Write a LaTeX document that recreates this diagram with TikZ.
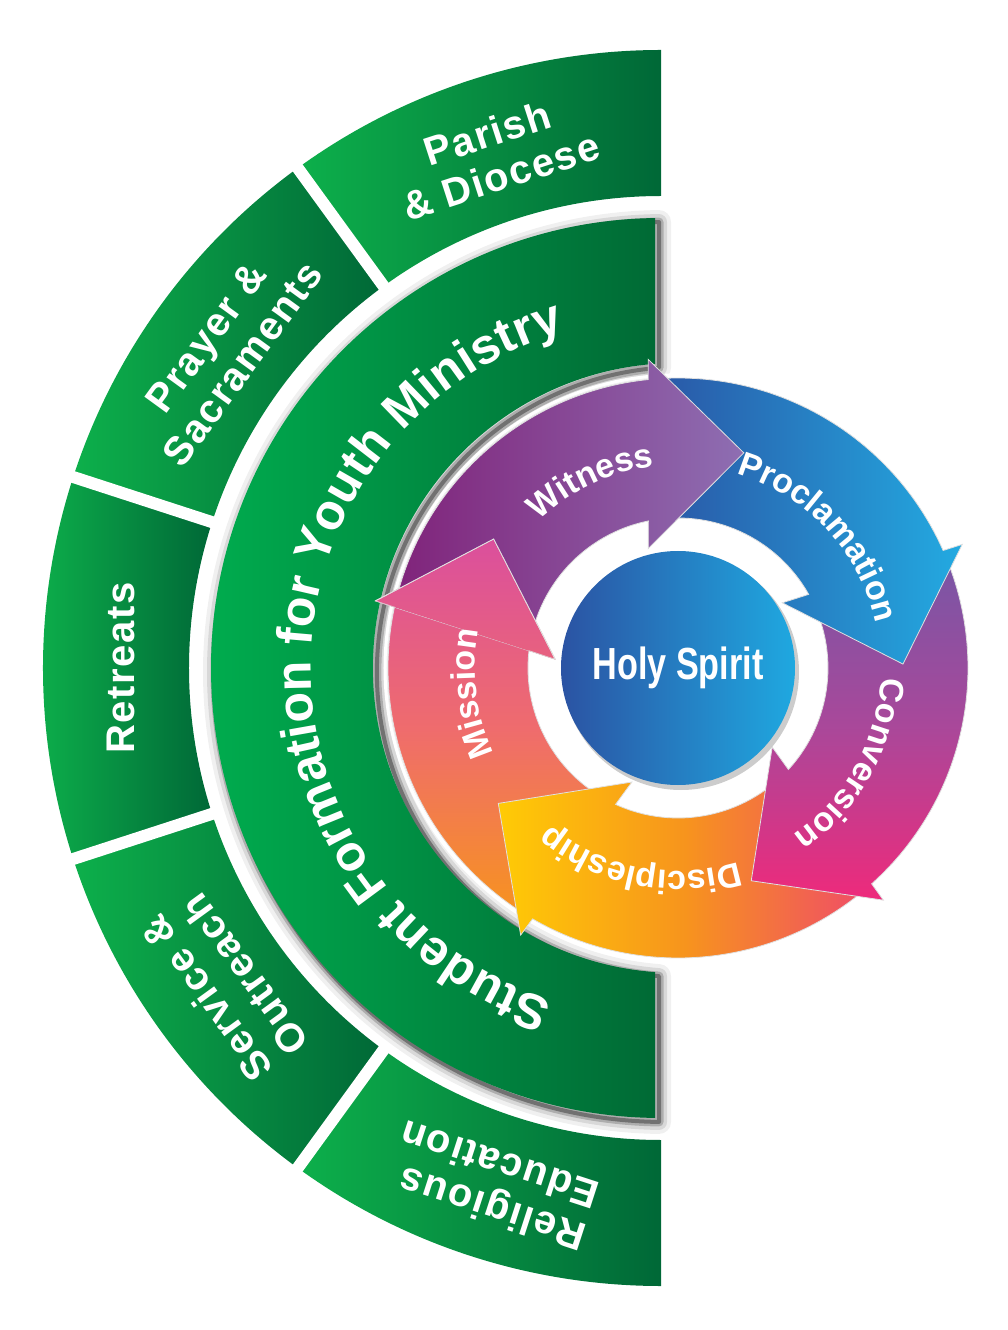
\documentclass[tikz,border=0pt]{standalone}
\usepackage{fontspec}
\setmainfont{Liberation Sans}
\usepackage{graphicx}
\usetikzlibrary{decorations.text}
\definecolor{greenlight}{HTML}{0DB04B}
\definecolor{greendark}{HTML}{006837}
\definecolor{ringlight}{HTML}{00AC4E}
\definecolor{ringdark}{HTML}{006A35}
\definecolor{witnessL}{HTML}{80237A}
\definecolor{witnessR}{HTML}{8E6EB2}
\definecolor{proclL}{HTML}{2A55A5}
\definecolor{proclR}{HTML}{23AAE1}
\definecolor{convT}{HTML}{7557A6}
\definecolor{convM}{HTML}{A9489A}
\definecolor{convB}{HTML}{EE2A7B}
\definecolor{discL}{HTML}{FFCB05}
\definecolor{discM}{HTML}{F7941D}
\definecolor{discR}{HTML}{EF4A6A}
\definecolor{missT}{HTML}{DB4F9D}
\definecolor{missM}{HTML}{EF6C6D}
\definecolor{missB}{HTML}{F7941D}
\definecolor{holyL}{HTML}{2B53A3}
\definecolor{holyR}{HTML}{1FA8E0}
\newcommand{\segfont}{\bfseries\addfontfeature{LetterSpace=4}\fontsize{40}{45}\selectfont}
\newcommand{\ringfont}{\bfseries\fontsize{50}{50}\selectfont}
\newcommand{\cyclefont}{\bfseries\fontsize{34}{34}\selectfont}
\newcommand{\holyfont}{\bfseries\fontsize{45}{45}\selectfont}
\def\formring{(90.76:450) arc[start angle=90.76,end angle=269.24,radius=450] -- (-6,-304.1) arc[start angle=265.7,end angle=94.3,radius=305] -- cycle}
\newcommand{\ringsegment}[1]{(#1:618) arc[start angle=#1,end angle=#1+36,radius=618] -- (#1+36:472) arc[start angle=#1+36,end angle=#1,radius=472] -- cycle}
\newcommand{\cyclearrow}[1]{(#1+94.9:290) arc[start angle=#1+94.9,end angle=#1+22.9,radius=290] -- (#1+22.5:310) -- (#1:225) -- (#1+31:123) -- (#1+28.4:150) arc[start angle=#1+28.4,end angle=#1+100.4,radius=150] -- cycle}

\begin{document}
\begin{tikzpicture}[x=1pt,y=1pt,seg/.style={left color=greenlight,right color=greendark},gap/.style={white,line width=12pt},seglabel/.style={text=white,font=\segfont,inner sep=0pt},formband/.style={left color=ringlight,right color=ringdark},halo/.style={black,line join=round},arrowedge/.style={draw=black!12,line width=0.8pt},witnessarrow/.style={arrowedge,left color=witnessL,right color=witnessR},proclarrow/.style={arrowedge,left color=proclL,right color=proclR},convarrow/.style={arrowedge,top color=convT,bottom color=convB,middle color=convM},discarrow/.style={arrowedge,left color=discL,right color=discR,middle color=discM},missionarrow/.style={arrowedge,top color=missT,bottom color=missB,middle color=missM},arctext/.style={decorate,decoration={text along path,text color=white,text align=center}},holy/.style={text=white,font=\holyfont}]
\useasboundingbox (-661,-662) rectangle (347,668);
\foreach \a in {90,126,162,198,234} \path[seg] \ringsegment{\a};
\foreach \a in {126,162,198,234} \draw[gap] (\a:465) -- (\a:625);
\node[seglabel,rotate=18,align=center] (parish) at (108:540) {Parish\\\& Diocese};
\node[seglabel,rotate=54,align=center] (prayer) at (144:540) {Prayer \&\\Sacraments};
\node[seglabel,rotate=90] (retreats) at (180:540) {Retreats};
\node[seglabel,rotate=126,align=left] (service) at (216:540) {Service \&\\Outreach};
\node[seglabel,rotate=162,align=left] (religious) at (252:545) {Religious\\Education};
\foreach \w/\o in {24/0.06,16/0.1,9/0.2,4/0.35} \draw[halo,opacity=\o,line width=\w pt,shift={(4,-4)}] \formring;
\path[formband] \formring;
\path[decorate,decoration={text along path,text color=white,text align=fit to path,text={|\ringfont|Student Formation for Youth Ministry}}] (252:350) arc[start angle=252,end angle=106,radius=350];
\draw[white,line width=3pt] (17,0) circle[radius=293];
\begin{scope}[shift={(17,0)}]
\path[missionarrow] \cyclearrow{145};
\path[discarrow] \cyclearrow{-143};
\path[convarrow] \cyclearrow{-71};
\path[proclarrow] \cyclearrow{1};
\path[witnessarrow] \cyclearrow{73};
\begin{scope}
\clip (167.5:310) -- (145:225) -- (176:123) -- cycle;
\path[missionarrow] \cyclearrow{145};
\end{scope}
\draw[black!12,line width=0.8pt] (167.5:310) -- (145:225) -- (176:123);
\path[arctext,decoration={text={|\cyclefont|Witness}}] (185:203) arc[start angle=185,end angle=45,radius=203];
\path[arctext,decoration={text={|\cyclefont|Proclamation}}] (113:203) arc[start angle=113,end angle=-27,radius=203];
\path[arctext,decoration={text={|\cyclefont|Conversion}}] (41:203) arc[start angle=41,end angle=-99,radius=203];
\path[arctext,decoration={text={|\cyclefont|Discipleship}}] (-31:203) arc[start angle=-31,end angle=-171,radius=203];
\path[arctext,decoration={text={|\cyclefont|Mission}}] (257:203) arc[start angle=257,end angle=117,radius=203];
\fill[black,opacity=0.2] (3,-4) circle[radius=118];
\path[left color=holyL,right color=holyR] (0,0) circle[radius=117];
\node[holy] (spirit) at (0,0) {\scalebox{0.76}[1]{Holy Spirit}};
\end{scope}
\end{tikzpicture}
\end{document}
